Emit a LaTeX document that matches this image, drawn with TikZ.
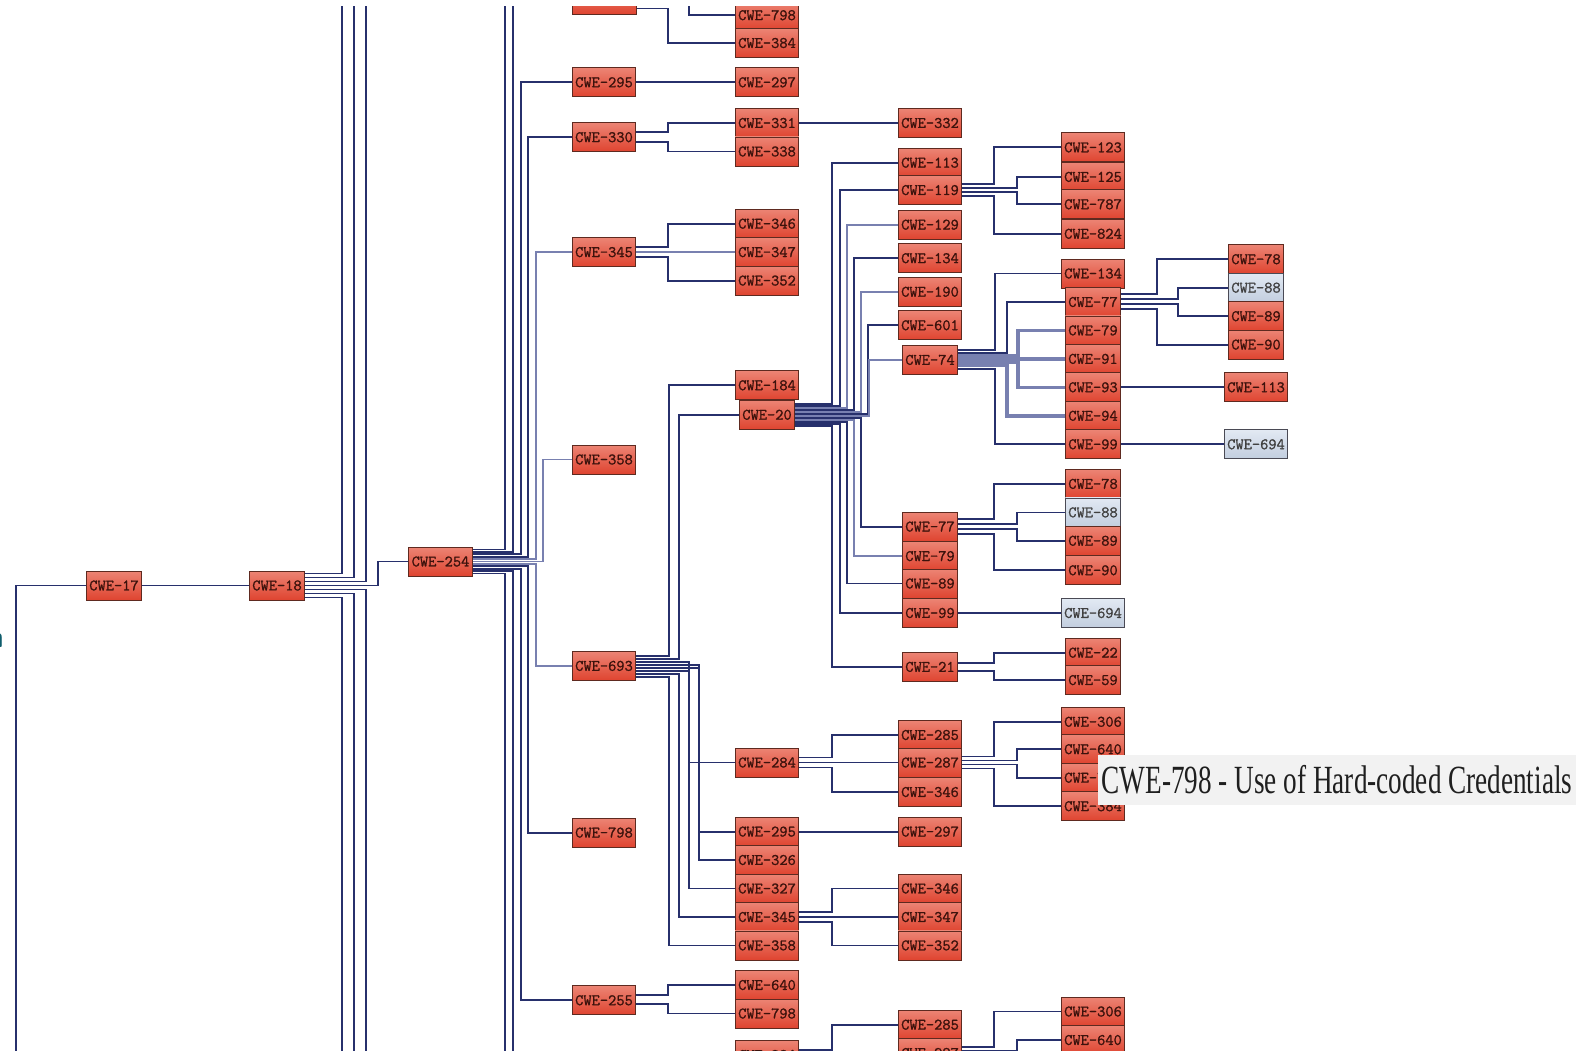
\documentclass[tikz,border=0pt]{standalone}
\usepackage{fontspec}
\newfontfamily\tipfont{Liberation Serif}
\newfontfamily\boxfont{Latin Modern Mono}[FakeBold=1.2]
\pgfdeclarelayer{bg}
\pgfsetlayers{bg,main}
\definecolor{dkc}{HTML}{27306C}
\definecolor{ltc}{HTML}{7880B0}
\definecolor{redtop}{HTML}{EC8474}
\definecolor{redbot}{HTML}{DF4430}
\definecolor{bordc}{HTML}{5E2A20}
\definecolor{txtc}{HTML}{3C120C}
\definecolor{bluetop}{HTML}{E2E9F3}
\definecolor{bluebot}{HTML}{C2CEDF}
\definecolor{bluebord}{HTML}{4A4A55}
\definecolor{tipbg}{HTML}{F2F2F2}
\definecolor{tealc}{HTML}{0F5D6C}
\tikzset{
  cwe/.style={draw=bordc, line width=0.8pt, top color=redtop, bottom color=redbot,
    font=\boxfont\fontsize{16}{16}\selectfont, text=txtc, inner xsep=3pt, inner ysep=0pt,
    minimum height=29pt},
  cweb/.style={cwe, draw=bluebord, top color=bluetop, bottom color=bluebot, text=black!75},
  dk/.style={draw=dkc, line width=1.8pt},
  lt/.style={draw=ltc, line width=1.8pt},
  ltb/.style={draw=ltc, line width=3.4pt},
}
\newcommand\lk[5][dk]{\path (#4,0) coordinate (lkx);\draw[#1] ([yshift=#3]#2.east) -| (#5.west -| lkx) -- (#5.west);}
\newcommand\lo[4][dk]{\draw[#1] ([yshift=#3]#2.east) -| (#4);}
\begin{document}
\begin{tikzpicture}[x=1pt,y=-1pt]
\useasboundingbox (0,0) rectangle (1594,1051);
\begin{scope}
\clip (0,7) rectangle (1594,1070);
% left part
\node[cwe] (n17) at (114,585.5) {CWE-17};
\node[cwe] (n18) at (277,585.5) {CWE-18};
\node[cwe] (n254) at (440.5,561.5) {CWE-254};
% column A
\node[cwe, minimum width=64pt] (a0) at (604,0) {};
\node[cwe] (a295) at (604,82.3) {CWE-295};
\node[cwe] (a330) at (604,137.2) {CWE-330};
\node[cwe] (a345) at (604,252.1) {CWE-345};
\node[cwe] (a358) at (604,459.5) {CWE-358};
\node[cwe] (a693) at (604,665.9) {CWE-693};
\node[cwe] (a798) at (604,832.6) {CWE-798};
\node[cwe] (a255) at (604,1000.3) {CWE-255};
% column B
\node[cwe] (b798) at (767,15.2) {CWE-798};
\node[cwe] (b384) at (767,43) {CWE-384};
\node[cwe] (b297) at (767,82.3) {CWE-297};
\node[cwe] (b331) at (767,123) {CWE-331};
\node[cwe] (b338) at (767,151.5) {CWE-338};
\node[cwe] (b346) at (767,223.7) {CWE-346};
\node[cwe] (b347) at (767,252.1) {CWE-347};
\node[cwe] (b352) at (767,280.6) {CWE-352};
\node[cwe] (b184) at (767,385.3) {CWE-184};
\node[cwe] (b20) at (767,414.8) {CWE-20};
\node[cwe] (b284) at (767,762.5) {CWE-284};
\node[cwe] (b295) at (767,831.6) {CWE-295};
\node[cwe] (b326) at (767,860) {CWE-326};
\node[cwe] (b327) at (767,888.5) {CWE-327};
\node[cwe] (b345) at (767,917) {CWE-345};
\node[cwe] (b358) at (767,945.4) {CWE-358};
\node[cwe] (b640) at (767,985) {CWE-640};
\node[cwe] (b798x) at (767,1013.5) {CWE-798};
\node[cwe] (b284x) at (767,1055) {CWE-284};
% column C
\node[cwe] (c332) at (930,123) {CWE-332};
\node[cwe] (c113) at (930,162.7) {CWE-113};
\node[cwe] (c119) at (930,190.1) {CWE-119};
\node[cwe] (c129) at (930,224.7) {CWE-129};
\node[cwe] (c134) at (930,258.2) {CWE-134};
\node[cwe] (c190) at (930,291.8) {CWE-190};
\node[cwe] (c601) at (930,325.3) {CWE-601};
\node[cwe] (c74) at (930,359.9) {CWE-74};
\node[cwe] (c77) at (930,526.6) {CWE-77};
\node[cwe] (c79) at (930,556.1) {CWE-79};
\node[cwe] (c89) at (930,583.5) {CWE-89};
\node[cwe] (c99) at (930,613) {CWE-99};
\node[cwe] (c21) at (930,666.9) {CWE-21};
\node[cwe] (c285) at (930,735) {CWE-285};
\node[cwe] (c287) at (930,762.5) {CWE-287};
\node[cwe] (c346) at (930,792) {CWE-346};
\node[cwe] (c297) at (930,831.6) {CWE-297};
\node[cwe] (c346x) at (930,888.5) {CWE-346};
\node[cwe] (c347) at (930,917) {CWE-347};
\node[cwe] (c352) at (930,945.4) {CWE-352};
\node[cwe] (c285x) at (930,1024.7) {CWE-285};
\node[cwe] (c287x) at (930,1053) {CWE-287};
% column D
\node[cwe] (d123) at (1093,147.4) {CWE-123};
\node[cwe] (d125) at (1093,176.9) {CWE-125};
\node[cwe] (d787) at (1093,204.3) {CWE-787};
\node[cwe] (d824) at (1093,233.8) {CWE-824};
\node[cwe] (d134) at (1093,273.5) {CWE-134};
\node[cwe] (d77) at (1093,302) {CWE-77};
\node[cwe] (d79) at (1093,330.4) {CWE-79};
\node[cwe] (d91) at (1093,358.9) {CWE-91};
\node[cwe] (d93) at (1093,387.3) {CWE-93};
\node[cwe] (d94) at (1093,415.8) {CWE-94};
\node[cwe] (d99) at (1093,444.3) {CWE-99};
\node[cwe] (d78) at (1093,483.9) {CWE-78};
\node[cweb] (d88) at (1093,512.4) {CWE-88};
\node[cwe] (d89) at (1093,540.8) {CWE-89};
\node[cwe] (d90) at (1093,570.3) {CWE-90};
\node[cweb] (d694) at (1093,613) {CWE-694};
\node[cwe] (d22) at (1093,652.7) {CWE-22};
\node[cwe] (d59) at (1093,680.1) {CWE-59};
\node[cwe] (d306) at (1093,721.8) {CWE-306};
\node[cwe] (d640) at (1093,749.2) {CWE-640};
\node[cwe] (d798) at (1093,777.7) {CWE-798};
\node[cwe] (d384) at (1093,806.2) {CWE-384};
\node[cwe] (d306x) at (1093,1011.5) {CWE-306};
\node[cwe] (d640x) at (1093,1040) {CWE-640};
% column E
\node[cwe] (e78) at (1256,259.2) {CWE-78};
\node[cweb] (e88) at (1256,287.7) {CWE-88};
\node[cwe] (e89) at (1256,316.2) {CWE-89};
\node[cwe] (e90) at (1256,344.6) {CWE-90};
\node[cwe] (e113) at (1256,387.3) {CWE-113};
\node[cweb] (e694) at (1256,444.3) {CWE-694};
\end{scope}

\begin{pgfonlayer}{bg}
\begin{scope}
\clip (0,7) rectangle (1594,1070);
\coordinate (in17) at (16,1065);
\coordinate (t342) at (342,-5); \coordinate (t354) at (354,-5); \coordinate (t366) at (366,-5);
\coordinate (b342) at (342,1065); \coordinate (b354) at (354,1065); \coordinate (b366) at (366,1065);
\coordinate (t505) at (505,-5); \coordinate (t513) at (513,-5);
\coordinate (b505) at (505,1065); \coordinate (b513) at (513,1065);
\draw[dk] (in17) |- (n17.west);
\draw[dk] (n17.east) -- (n18.west);
% CWE-18
\lo{n18}{12}{t342}
\lo{n18}{8}{t354}
\lo{n18}{4}{t366}
\lk{n18}{0}{378}{n254}
\lo{n18}{-4}{b366}
\lo{n18}{-8}{b354}
\lo{n18}{-12}{b342}
% CWE-254
\lo{n254}{12}{t505}
\lo{n254}{9.6}{t513}
\lk{n254}{7.2}{521}{a295}
\lk{n254}{4.8}{528}{a330}
\lk[lt]{n254}{2.4}{536}{a345}
\lk[lt]{n254}{0}{543}{a358}
\lk[lt]{n254}{-2.4}{536}{a693}
\lk{n254}{-4.8}{528}{a798}
\lk{n254}{-7.2}{521}{a255}
\lo{n254}{-9.6}{b513}
\lo{n254}{-12}{b505}
% column A children
\lk{a0}{4}{689}{b798}
\lk{a0}{-8.5}{668}{b384}
\draw[dk] (a295.east) -- (b297.west);
\lk{a330}{5}{668}{b331}
\lk{a330}{-5}{668}{b338}
\draw[dk] (b331.east) -- (c332.west);
\lk{a345}{5}{668}{b346}
\draw[lt] (a345.east) -- (b347.west);
\lk{a345}{-5}{668}{b352}
\lk{a693}{10}{669}{b184}
\lk{a693}{7}{679}{b20}
\lk{a693}{4}{689}{b284}
\lk{a693}{1}{699}{b295}
\lk{a693}{-2}{699}{b326}
\lk{a693}{-5}{689}{b327}
\lk{a693}{-8}{679}{b345}
\lk{a693}{-11}{669}{b358}
\lk{a255}{5}{668}{b640}
\lk{a255}{-4}{668}{b798x}
% CWE-20
\lk{b20}{11}{832}{c113}
\lk{b20}{9}{840}{c119}
\lk[lt]{b20}{7}{847}{c129}
\lk{b20}{5}{854}{c134}
\lk[lt]{b20}{3}{861}{c190}
\lk{b20}{1}{868}{c601}
\lk[lt]{b20}{-1}{869}{c74}
\lk{b20}{-3}{861}{c77}
\lk[lt]{b20}{-5}{854}{c79}
\lk{b20}{-7}{847}{c89}
\lk{b20}{-9}{840}{c99}
\lk{b20}{-11}{832}{c21}
% column B others
\lk{b284}{5}{832}{c285}
\draw[dk] (b284.east) -- (c287.west);
\lk{b284}{-5}{832}{c346}
\draw[dk] (b295.east) -- (c297.west);
\lk{b345}{5}{832}{c346x}
\draw[dk] (b345.east) -- (c347.west);
\lk{b345}{-5}{832}{c352}
\lk{b284x}{5}{832}{c285x}
\draw[dk] (b284x.east) -- (c287x.west);
% column C children
\lk{c119}{6}{994}{d123}
\lk{c119}{2}{1017}{d125}
\lk{c119}{-2}{1017}{d787}
\lk{c119}{-6}{994}{d824}
\lk{c74}{10}{995}{d134}
\lk{c74}{7}{1007}{d77}
\lk[ltb]{c74}{4}{1018}{d79}
\lk[ltb]{c74}{1}{1018}{d91}
\lk[ltb]{c74}{-2}{1018}{d93}
\lk[ltb]{c74}{-5}{1007}{d94}
\lk{c74}{-9}{995}{d99}
\lk{c77}{8}{994}{d78}
\lk{c77}{3}{1017}{d88}
\lk{c77}{-2}{1017}{d89}
\lk{c77}{-7}{994}{d90}
\draw[dk] (c99.east) -- (d694.west);
\lk{c21}{4}{994}{d22}
\lk{c21}{-4}{994}{d59}
\lk{c287}{6}{994}{d306}
\lk{c287}{2}{1017}{d640}
\lk{c287}{-2}{1017}{d798}
\lk{c287}{-6}{994}{d384}
\lk{c287x}{6}{994}{d306x}
\lk{c287x}{2}{1017}{d640x}
% column D children
\lk{d77}{8}{1157}{e78}
\lk{d77}{3}{1178}{e88}
\lk{d77}{-2}{1178}{e89}
\lk{d77}{-7}{1157}{e90}
\draw[dk] (d93.east) -- (e113.west);
\draw[dk] (d99.east) -- (e694.west);
\end{scope}
\end{pgfonlayer}

% tooltip and edge fragment
\node[fill=tipbg, inner sep=0pt, minimum width=478pt, minimum height=50pt,
  font=\tipfont\fontsize{40}{40}\selectfont, text=black!88] (tip) at (1337,780)
  {\scalebox{0.68}[1]{CWE-798 - Use of Hard-coded Credentials}};
\node[font=\sffamily\bfseries\fontsize{30}{30}\selectfont, text=tealc, inner sep=0pt, anchor=east] (frag) at (4,640) {n};
\end{tikzpicture}
\end{document}
